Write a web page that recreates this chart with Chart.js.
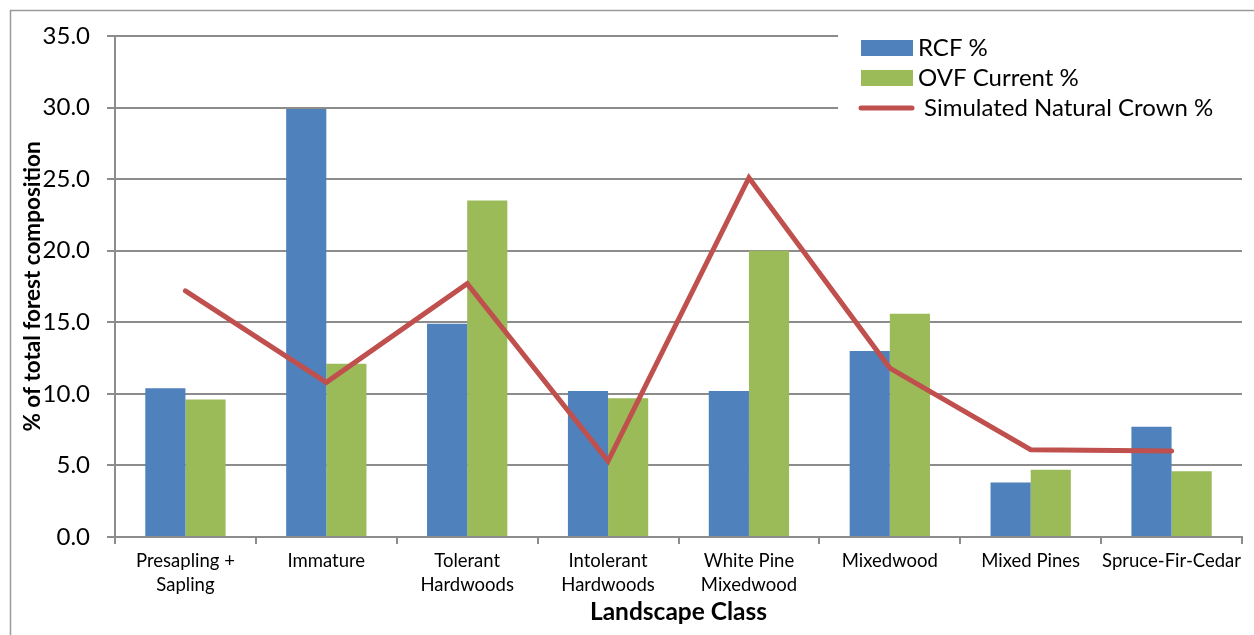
<!DOCTYPE html>
<html>
<head>
<meta charset="utf-8">
<script src="https://cdn.jsdelivr.net/npm/chart.js@4.4.1/dist/chart.umd.min.js"></script>
<style>
  html, body { margin: 0; padding: 0; background: #fff; }
  #wrap { position: relative; width: 1254px; height: 635px; }
</style>
</head>
<body>
<div id="wrap"><canvas id="forestChart"></canvas></div>
<script>
const categories = [
    ['Presapling +', 'Sapling'],
    'Immature',
    ['Tolerant', 'Hardwoods'],
    ['Intolerant', 'Hardwoods'],
    ['White Pine', 'Mixedwood'],
    'Mixedwood',
    'Mixed Pines',
    'Spruce-Fir-Cedar'
];
const rcfValues = [10.4, 29.9, 14.9, 10.2, 10.2, 13.0, 3.8, 7.7];
const ovfValues = [9.6, 12.1, 23.5, 9.7, 20.0, 15.6, 4.7, 4.6];
const naturalValues = [17.2, 10.8, 17.7, 5.3, 25.1, 11.8, 6.1, 6.0];
const yTicks = [0, 5, 10, 15, 20, 25, 30, 35];

const FONT = 'Lato, "Open Sans", sans-serif';
const GRID = '#8c8c8c';

// grey frame round the whole chart, like the Excel chart area
const framePlugin = {
    id: 'frame',
    beforeDraw(chart) {
        const c = chart.ctx;
        c.save();
        c.strokeStyle = '#9a9a9a';
        c.lineWidth = 1.5;
        c.strokeRect(10.5, 10.5, chart.width + 20, chart.height + 20);
        c.restore();
    }
};

// legend sits on top of the plot, in a white box that hides the grid
const legendPlugin = {
    id: 'boxLegend',
    afterDatasetsDraw(chart) {
        const c = chart.ctx;
        const ds = chart.data.datasets;
        c.save();
        c.fillStyle = '#fff';
        c.fillRect(838, 24, chart.width - 838, 100);
        c.font = '24px ' + FONT;
        c.textBaseline = 'middle';
        c.fillStyle = '#000';
        const rows = [48, 78, 108];
        ds.forEach((d, i) => {
            const y = rows[i];
            if (d.type === 'line') {
                c.strokeStyle = d.borderColor;
                c.lineWidth = 5;
                c.lineCap = 'round';
                c.beginPath();
                c.moveTo(861, y);
                c.lineTo(912, y);
                c.stroke();
                c.fillText(d.label, 924, y);
            } else {
                c.fillStyle = d.backgroundColor;
                c.fillRect(861, y - 8, 52, 16);
                c.fillStyle = '#000';
                c.fillText(d.label, 918, y);
            }
        });
        c.restore();
    }
};

const ctx = document.getElementById('forestChart').getContext('2d');
new Chart(ctx, {
    data: {
        labels: categories,
        datasets: [
            {
                type: 'bar',
                label: 'RCF %',
                data: rcfValues,
                backgroundColor: '#4F81BD',
                categoryPercentage: 0.57,
                barPercentage: 1.0,
                order: 1
            },
            {
                type: 'bar',
                label: 'OVF Current %',
                data: ovfValues,
                backgroundColor: '#9BBB59',
                categoryPercentage: 0.57,
                barPercentage: 1.0,
                order: 1
            },
            {
                type: 'line',
                label: 'Simulated Natural Crown %',
                data: naturalValues,
                borderColor: '#C0504D',
                backgroundColor: '#C0504D',
                borderWidth: 5,
                pointRadius: 0,
                tension: 0,
                borderCapStyle: 'round',
                borderJoinStyle: 'miter',
                order: 0
            }
        ]
    },
    options: {
        responsive: true,
        maintainAspectRatio: false,
        animation: false,
        layout: { padding: { left: 0, top: 36, right: 12, bottom: 8 } },
        plugins: {
            legend: { display: false },
            tooltip: { enabled: false }
        },
        scales: {
            x: {
                offset: true,
                afterFit: axis => { axis.height = 90; },
                grid: {
                    offset: true,
                    drawOnChartArea: false,
                    drawTicks: true,
                    tickLength: 7,
                    color: GRID,
                    lineWidth: 2
                },
                border: { color: GRID, width: 2 },
                ticks: {
                    color: '#000',
                    font: { family: FONT, size: 18.5, lineHeight: 1.3 },
                    maxRotation: 0,
                    autoSkip: false,
                    padding: 5
                },
                title: {
                    display: true,
                    text: 'Landscape Class',
                    color: '#000',
                    font: { family: FONT, size: 24.5, weight: 'bold' },
                    padding: { top: 0, bottom: 0 }
                }
            },
            y: {
                min: 0,
                max: 35,
                afterBuildTicks: axis => { axis.ticks = yTicks.map(v => ({ value: v })); },
                afterFit: axis => { axis.width = 115; },
                grid: {
                    color: GRID,
                    lineWidth: 2,
                    tickLength: 8
                },
                border: { color: GRID, width: 2 },
                ticks: {
                    color: '#000',
                    font: { family: FONT, size: 24 },
                    padding: 17,
                    callback: value => Number(value).toFixed(1)
                },
                title: {
                    display: true,
                    text: '% of total forest composition',
                    color: '#000',
                    font: { family: FONT, size: 22.5, weight: 'bold' },
                    padding: { top: 19, bottom: 0 }
                }
            }
        }
    },
    plugins: [framePlugin, legendPlugin]
});
</script>
</body>
</html>
